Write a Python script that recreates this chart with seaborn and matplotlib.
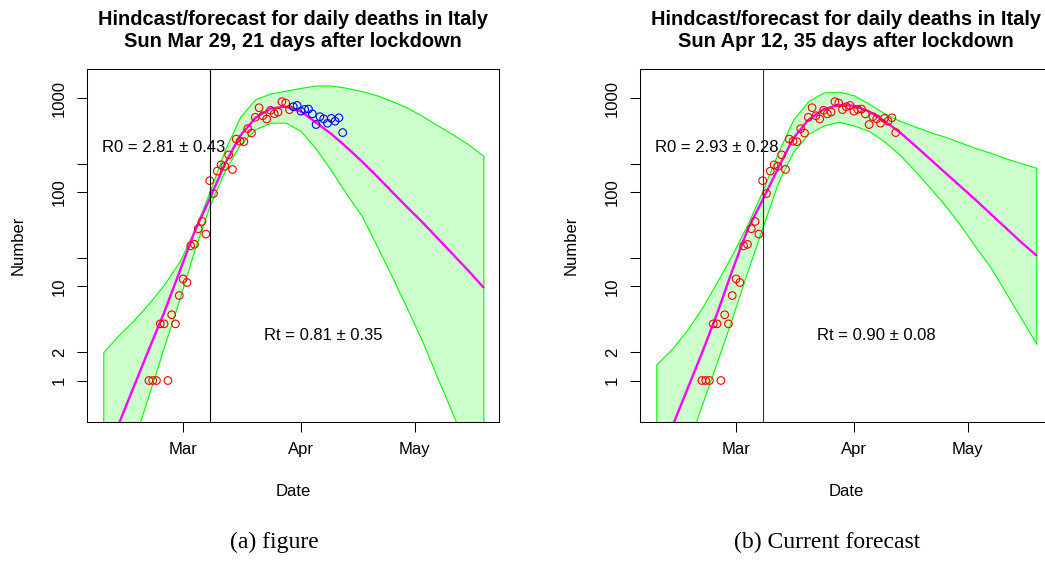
import numpy as np
import pandas as pd
import seaborn as sns
import matplotlib.pyplot as plt

# observed daily deaths in Italy (Feb 21 .. Apr 12)
obs_dates = pd.date_range("2020-02-21", "2020-04-12", freq="D")
deaths = [1, 1, 1, 4, 4, 1, 5, 4, 8,
          12, 11, 27, 28, 41, 49, 36, 133, 97, 168, 196, 189, 250, 175,
          368, 349, 345, 475, 427, 627, 793, 651, 601, 743, 683, 712, 919,
          889, 756, 812, 837,
          727, 760, 766, 681, 525, 636, 604, 542, 610, 570, 619, 431]

# model curves, read every 4 days from Feb 9 to May 19
model_dates = pd.date_range("2020-02-09", "2020-05-19", freq="4D")

fit_mar29 = [0.135, 0.339, 0.851, 2.14, 5.25, 14.1, 38.0, 85.1, 200, 398, 617, 776, 813,
             724, 550, 417, 302, 214, 148, 101, 69.2, 47.9, 32.4, 21.9, 14.8, 9.77]
upper_mar29 = [2.0, 3.02, 4.37, 6.61, 10.5, 18.2, 39.8, 102, 282, 631, 977, 1122, 1202,
               1288, 1365, 1365, 1288, 1189, 1072, 933, 794, 646, 513, 412, 324, 245]
lower_mar29 = [0.0224, 0.0708, 0.224, 0.708, 2.29, 7.24, 24.5, 72.4, 170, 324, 468, 550, 550,
               447, 288, 170, 95.5, 56.2, 26.9, 12.6, 5.75, 2.57, 1.05, 0.437, 0.174, 0.0676]

fit_apr12 = [0.123, 0.309, 0.776, 1.95, 5.13, 14.8, 39.8, 83.2, 178, 372, 589, 759, 851,
             832, 724, 575, 437, 316, 226, 162, 116, 83.2, 58.9, 41.7, 29.5, 21.4]
upper_apr12 = [1.48, 2.14, 3.39, 5.89, 11.2, 21.9, 45.7, 105, 263, 589, 933, 1148, 1175,
               1072, 871, 692, 575, 501, 437, 389, 339, 295, 263, 229, 204, 182]
lower_apr12 = [0.0234, 0.0676, 0.191, 0.550, 1.58, 4.68, 14.5, 42.7, 126, 269, 417, 513, 562,
               513, 447, 347, 251, 170, 112, 72.4, 44.7, 26.3, 15.8, 8.51, 4.57, 2.45]

lockdown = pd.Timestamp("2020-03-08")
x_ticks = pd.to_datetime(["2020-03-01", "2020-04-01", "2020-05-01"])
x_tick_labels = ["Mar", "Apr", "May"]
y_ticks = [1, 2, 10, 20, 100, 200, 1000]
y_tick_labels = ["1", "2", "10", "", "100", "", "1000"]

sns.set_style("white")
plt.rcParams['font.family'] = ['Liberation Sans', 'DejaVu Sans']
plt.rcParams['text.color'] = 'black'
plt.rcParams['axes.labelcolor'] = 'black'
plt.rcParams['xtick.color'] = 'black'
plt.rcParams['ytick.color'] = 'black'

W, H = 1045, 574
fig = plt.figure(figsize=(W / 100, H / 100), dpi=100)

mar1 = pd.Timestamp("2020-03-01")


def panel(left_px, fit, upper, lower, n_red, title2, r0_txt, rt_txt, vcol):
    ax = fig.add_axes([left_px / W, (H - 421.7) / H, 412 / W, 352.4 / H])
    ax.set_yscale("log")
    ax.fill_between(model_dates, lower, upper, facecolor="#CCFFCC",
                    edgecolor="#00FF00", linewidth=0.8, zorder=1)
    sns.lineplot(x=model_dates, y=fit, ax=ax, color="#FF00FF", linewidth=1.7, zorder=2)
    sns.scatterplot(x=obs_dates[:n_red], y=deaths[:n_red], ax=ax, marker="o", s=30,
                    facecolor="none", edgecolor="#FF0000", linewidth=0.8, zorder=3)
    if n_red < len(deaths):
        sns.scatterplot(x=obs_dates[n_red:], y=deaths[n_red:], ax=ax, marker="o", s=30,
                        facecolor="none", edgecolor="#0000FF", linewidth=0.8, zorder=3)
    ax.axvline(lockdown, color=vcol, linewidth=0.8, zorder=4)

    ax.set_xlim(mar1 - pd.Timedelta(days=25.2), mar1 + pd.Timedelta(days=83.2))
    ax.set_ylim(0.365, 2028)
    ax.set_xticks(x_ticks)
    ax.set_xticklabels(x_tick_labels)
    ax.set_yticks(y_ticks)
    ax.set_yticklabels(y_tick_labels, rotation=90, va="center")
    ax.minorticks_off()
    ax.tick_params(direction="out", length=7.2, width=0.75, labelsize=12,
                   colors="black", pad=7.5, left=True, bottom=True)
    for s in ax.spines.values():
        s.set_color("black")
        s.set_linewidth(0.75)

    ax.set_xlabel("Date", fontsize=12)
    ax.xaxis.set_label_coords(0.5, (421.7 - 492) / 352.4)
    ax.xaxis.label.set_va("center")
    ax.set_ylabel("Number", fontsize=12)
    ax.yaxis.set_label_coords((18 - 87.3) / 412, 0.5)
    ax.yaxis.label.set_va("center")

    ax.text(pd.Timestamp("2020-02-25"), 300, r0_txt, ha="center", va="center", fontsize=12)
    ax.text(pd.Timestamp("2020-04-07"), 3, rt_txt, ha="center", va="center", fontsize=12)

    cx = (left_px + 206) / W
    fig.text(cx, 1 - 25 / H, "Hindcast/forecast for daily deaths in Italy",
             ha="center", va="baseline", fontsize=14.4, fontweight="bold")
    fig.text(cx, 1 - 47 / H, title2, ha="center", va="baseline",
             fontsize=14.4, fontweight="bold")
    return ax


panel(87.3, fit_mar29, upper_mar29, lower_mar29, 38,
      "Sun Mar 29, 21 days after lockdown", "R0 = 2.81 ± 0.43", "Rt = 0.81 ± 0.35", "black")
panel(640.3, fit_apr12, upper_apr12, lower_apr12, len(deaths),
      "Sun Apr 12, 35 days after lockdown", "R0 = 2.93 ± 0.28", "Rt = 0.90 ± 0.08", "#333333")

fig.text(274 / W, 1 - 542 / H, "(a) figure", ha="center", va="center",
         fontsize=17, family=["Liberation Serif", "DejaVu Serif"])
fig.text(827 / W, 1 - 542 / H, "(b) Current forecast", ha="center", va="center",
         fontsize=17, family=["Liberation Serif", "DejaVu Serif"])

fig.savefig("out.png", dpi=100)
